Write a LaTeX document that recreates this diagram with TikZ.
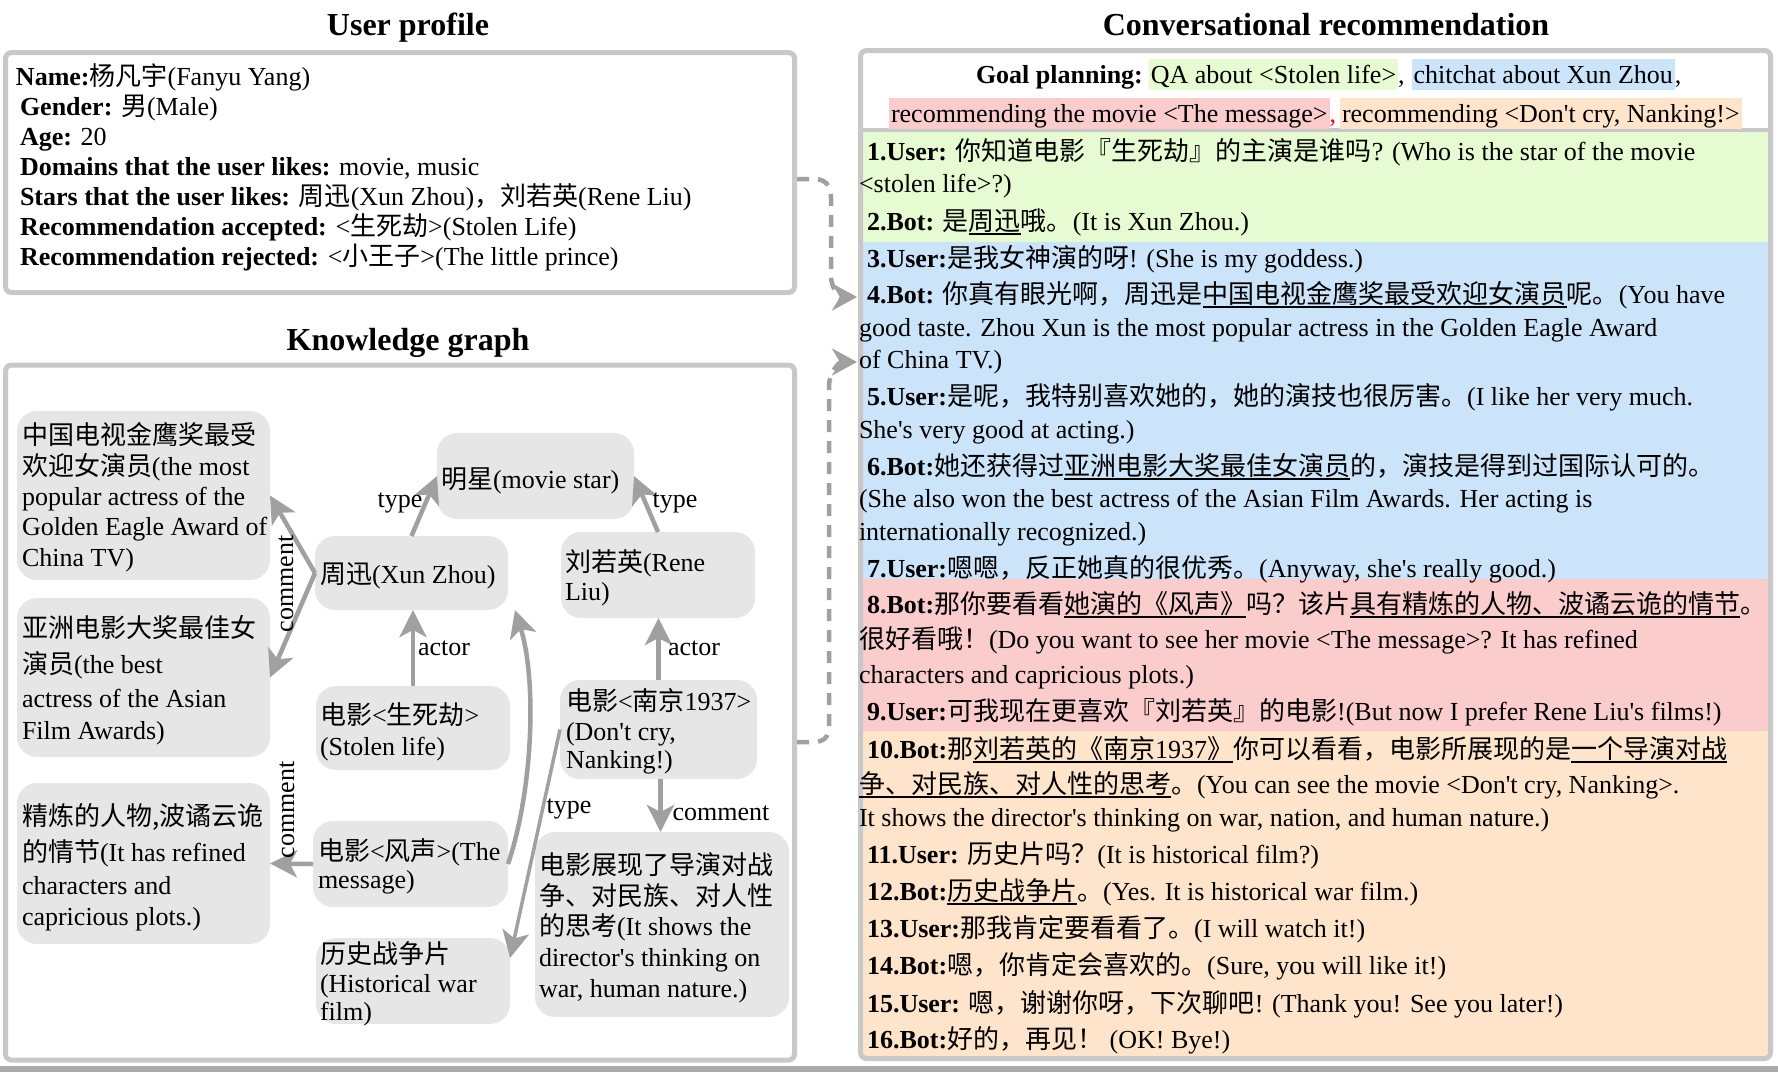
\documentclass[tikz,border=0pt]{standalone}
\usepackage{fontspec}
\setmainfont{Liberation Serif}
\newfontfamily\cjk{Noto Sans CJK SC}
\usetikzlibrary{arrows.meta}
\newcommand\zh[1]{{\cjk #1}}
\newsavebox\ulbox
\newcommand\ulx[1]{\sbox\ulbox{#1}\rlap{\rule[-5pt]{\wd\ulbox}{2.5pt}}\usebox\ulbox}
\newcommand\ap{\textquotesingle}
\definecolor{panelgray}{RGB}{200,200,200}
\definecolor{edgegray}{RGB}{160,160,160}
\definecolor{nodegray}{RGB}{230,230,230}
\definecolor{cgreen}{RGB}{230,251,210}
\definecolor{cblue}{RGB}{204,228,250}
\definecolor{cpink}{RGB}{251,204,204}
\definecolor{corange}{RGB}{255,228,204}
\begin{document}
\begin{tikzpicture}[x=1pt,y=-1pt,
  every node/.style={inner sep=0pt, outer sep=0pt, font=\fontsize{26pt}{30pt}\selectfont},
  txt/.style={anchor=base west},
  ttl/.style={anchor=base, font=\fontsize{32pt}{36pt}\selectfont\bfseries},
  panel/.style={draw=panelgray, line width=5pt, rounded corners=6pt},
  kgbox/.style={fill=nodegray, rounded corners=20pt, draw=none},
  kgarrow/.style={draw=edgegray, line width=4.5pt, -{Stealth[length=27pt,width=27pt,inset=7pt]}},
  dasharrow/.style={draw=edgegray, line width=4.5pt, dash pattern=on 12pt off 9pt, -{Stealth[length=25pt,width=27pt,inset=8pt]}},
  hl/.style={anchor=base west, inner xsep=2pt, inner ysep=3pt, text height=21pt, text depth=4pt},
  lbl/.style={anchor=base},
]
\useasboundingbox (0,0) rectangle (1778,1072);
% bottom band
\fill[panelgray!85!black] (0,1066) rectangle (1778,1072);
% titles
\node[ttl] (t1) at (408,35) {User profile};
\node[ttl] (t2) at (408,350) {Knowledge graph};
\node[ttl] (t3) at (1326,35) {Conversational recommendation};
% left panels
\node[panel, minimum width=789pt, minimum height=240pt] (up) at (400,172.5) {};
\node[panel, minimum width=789pt, minimum height=695pt] (kg) at (400,712.5) {};
% right panel bands
\fill[cgreen] (860,131) rectangle (1769,242);
\fill[cblue] (860,242) rectangle (1769,579);
\fill[cpink] (860,579) rectangle (1769,731);
\fill[corange] (860,731) rectangle (1769,1056);
\node[panel, minimum width=910pt, minimum height=1008pt] (rb) at (1315.5,554.5) {};
\draw[panelgray, line width=4pt] (860,130) -- (1770,130);

% user profile text
\node[txt] (p1) at (16,85) {\textbf{Name:}\zh{杨凡宇}(Fanyu Yang)};
\node[txt] (p2) at (20,115) {\textbf{Gender:} \zh{男}(Male)};
\node[txt] (p3) at (20,145) {\textbf{Age:} 20};
\node[txt] (p4) at (20,175) {\textbf{Domains that the user likes:} movie, music};
\node[txt] (p5) at (20,205) {\textbf{Stars that the user likes:} \zh{周迅}(Xun Zhou)\zh{，刘若英}(Rene Liu)};
\node[txt] (p6) at (20,235) {\textbf{Recommendation accepted:} <\zh{生死劫}>(Stolen Life)};
\node[txt] (p7) at (20,265) {\textbf{Recommendation rejected:} <\zh{小王子}>(The little prince)};

% goal planning
\node[txt] (gp) at (976,83) {\textbf{Goal planning:}};
\node[hl, fill=cgreen] (g1) at ([xshift=6pt]gp.base east) {QA about <Stolen life>};
\node[txt] (c1) at (g1.base east) {,};
\node[hl, fill=cblue] (g2) at ([xshift=7pt]c1.base east) {chitchat about Xun Zhou};
\node[txt] (c2) at (g2.base east) {,};
\node[hl, fill=cpink] (g3) at (889,122) {recommending the movie <The message>};
\node[txt, text=red] (c3) at (g3.base east) {,};
\node[hl, fill=corange] (g4) at ([xshift=4pt]c3.base east) {recommending <Don\ap t cry, Nanking!>};

% dialogue
\node[txt] (r1) at (867,160) {\textbf{1.User:} \zh{你知道电影『生死劫』的主演是谁吗}? (Who is the star of the movie};
\node[txt] (r2) at (859,192) {<stolen life>?)};
\node[txt] (r3) at (867,230) {\textbf{2.Bot:} \zh{是\ulx{周迅}哦。}(It is Xun Zhou.)};
\node[txt] (r4) at (867,267) {\textbf{3.User:}\zh{是我女神演的呀}! (She is my goddess.)};
\node[txt] (r5) at (867,303) {\textbf{4.Bot:} \zh{你真有眼光啊，周迅是\ulx{中国电视金鹰奖最受欢迎女演员}呢。}(You have};
\node[txt] (r6) at (859,336) {good taste. Zhou Xun is the most popular actress in the Golden Eagle Award};
\node[txt] (r7) at (859,368) {of China TV.)};
\node[txt] (r8) at (867,405) {\textbf{5.User:}\zh{是呢，我特别喜欢她的，她的演技也很厉害。}(I like her very much.};
\node[txt] (r9) at (859,438) {She\ap s very good at acting.)};
\node[txt] (r10) at (867,475) {\textbf{6.Bot:}\zh{她还获得过\ulx{亚洲电影大奖最佳女演员}的，演技是得到过国际认可的。}};
\node[txt] (r11) at (859,507) {(She also won the best actress of the Asian Film Awards. Her acting is};
\node[txt] (r12) at (859,540) {internationally recognized.)};
\node[txt] (r13) at (867,577) {\textbf{7.User:}\zh{嗯嗯，反正她真的很优秀。}(Anyway, she\ap s really good.)};
\node[txt] (r14) at (867,613) {\textbf{8.Bot:}\zh{那你要看看\ulx{她演的《风声》}吗？该片\ulx{具有精炼的人物、波谲云诡的情节}。}};
\node[txt] (r15) at (859,648) {\zh{很好看哦！}(Do you want to see her movie <The message>? It has refined};
\node[txt] (r16) at (859,683) {characters and capricious plots.)};
\node[txt] (r17) at (867,720) {\textbf{9.User:}\zh{可我现在更喜欢『刘若英』的电影}!(But now I prefer Rene Liu\ap s films!)};
\node[txt] (r18) at (867,758) {\textbf{10.Bot:}\zh{那}\ulx{\zh{刘若英的《南京}1937\zh{》}}\zh{你可以看看，电影所展现的是\ulx{一个导演对战}}};
\node[txt] (r19) at (859,793) {\zh{\ulx{争、对民族、对人性的思考}。}(You can see the movie <Don\ap t cry, Nanking>.};
\node[txt] (r20) at (859,826) {It shows the director\ap s thinking on war, nation, and human nature.)};
\node[txt] (r21) at (867,863) {\textbf{11.User:} \zh{历史片吗？}(It is historical film?)};
\node[txt] (r22) at (867,900) {\textbf{12.Bot:}\zh{\ulx{历史战争片}。}(Yes. It is historical war film.)};
\node[txt] (r23) at (867,937) {\textbf{13.User:}\zh{那我肯定要看看了。}(I will watch it!)};
\node[txt] (r24) at (867,974) {\textbf{14.Bot:}\zh{嗯，你肯定会喜欢的。}(Sure, you will like it!)};
\node[txt] (r25) at (867,1012) {\textbf{15.User:} \zh{嗯，谢谢你呀，下次聊吧}! (Thank you! See you later!)};
\node[txt] (r26) at (867,1048) {\textbf{16.Bot:}\zh{好的，再见！} (OK! Bye!)};

% knowledge graph boxes
\node[kgbox, minimum width=253pt, minimum height=169pt] (b1) at (143.5,495.5) {};
\node[kgbox, minimum width=253pt, minimum height=159pt] (b2) at (143.5,677.5) {};
\node[kgbox, minimum width=253pt, minimum height=161pt] (b3) at (143.5,863.5) {};
\node[kgbox, minimum width=197pt, minimum height=86pt] (b4) at (535.5,476) {};
\node[kgbox, minimum width=193pt, minimum height=74pt] (b5) at (411.5,573) {};
\node[kgbox, minimum width=194pt, minimum height=86pt] (b6) at (658,575) {};
\node[kgbox, minimum width=194pt, minimum height=84pt] (b7) at (413,728) {};
\node[kgbox, minimum width=197pt, minimum height=99pt] (b8) at (658.5,729.5) {};
\node[kgbox, minimum width=195pt, minimum height=86pt] (b9) at (410.5,864) {};
\node[kgbox, minimum width=194pt, minimum height=86pt] (b10) at (413,981) {};
\node[kgbox, minimum width=254pt, minimum height=185pt] (b11) at (662,924.5) {};

% box texts
\node[txt] (b1a) at (22,444) {\zh{中国电视金鹰奖最受}};
\node[txt] (b1b) at (22,475) {\zh{欢迎女演员}(the most};
\node[txt] (b1c) at (22,505) {popular actress of the};
\node[txt] (b1d) at (22,535) {Golden Eagle Award of};
\node[txt] (b1e) at (22,566) {China TV)};
\node[txt] (b2a) at (22,637) {\zh{亚洲电影大奖最佳女}};
\node[txt] (b2b) at (22,673) {\zh{演员}(the best};
\node[txt] (b2c) at (22,707) {actress of the Asian};
\node[txt] (b2d) at (22,739) {Film Awards)};
\node[txt] (b3a) at (22,825) {\zh{精炼的人物,波谲云诡}};
\node[txt] (b3b) at (22,861) {\zh{的情节}(It has refined};
\node[txt] (b3c) at (22,894) {characters and};
\node[txt] (b3d) at (22,925) {capricious plots.)};
\node[txt] (b4a) at (441,488) {\zh{明星}(movie star)};
\node[txt] (b5a) at (320,583) {\zh{周迅}(Xun Zhou)};
\node[txt] (b6a) at (565,571) {\zh{刘若英}(Rene};
\node[txt] (b6b) at (565,600) {Liu)};
\node[txt] (b7a) at (320,724) {\zh{电影}<\zh{生死劫}>};
\node[txt] (b7b) at (320,755) {(Stolen life)};
\node[txt] (b8a) at (566,710) {\zh{电影}<\zh{南京}1937>};
\node[txt] (b8b) at (566,740) {(Don\ap t cry,};
\node[txt] (b8c) at (566,768) {Nanking!)};
\node[txt] (b9a) at (318,860) {\zh{电影}<\zh{风声}>(The};
\node[txt] (b9b) at (318,888) {message)};
\node[txt] (b10a) at (320,963) {\zh{历史战争片}};
\node[txt] (b10b) at (320,992) {(Historical war};
\node[txt] (b10c) at (320,1020) {film)};
\node[txt] (b11a) at (539,874) {\zh{电影展现了导演对战}};
\node[txt] (b11b) at (539,905) {\zh{争、对民族、对人性}};
\node[txt] (b11c) at (539,935) {\zh{的思考}(It shows the};
\node[txt] (b11d) at (539,966) {director\ap s thinking on};
\node[txt] (b11e) at (539,997) {war, human nature.)};

% knowledge graph edges
\draw[kgarrow] (b5.west) -- (b1.east);
\draw[kgarrow] (b5.west) -- (b2.east);
\draw[kgarrow] (b5.north) -- (b4.west);
\draw[kgarrow] (b6.north) -- (b4.east);
\draw[kgarrow] (b7.north) -- (b7.north |- b5.south);
\draw[kgarrow] (b8.north) -- (b8.north |- b6.south);
\draw[kgarrow] (b9.east) .. controls (533,790) and (537,680) .. ([xshift=7pt]b5.south east);
\draw[kgarrow] (b9.west) -- (b3.east);
\draw[kgarrow, line width=3.5pt] (b8.west) -- ([yshift=-20pt]b10.north east);
\draw[kgarrow] ([xshift=2pt]b8.south) -- ([xshift=2pt]b8.south |- b11.north);

% edge labels
\node[lbl] (lt1) at (400,507) {type};
\node[lbl] (lt2) at (675,507) {type};
\node[lbl] (la1) at (444,655) {actor};
\node[lbl] (la2) at (694,655) {actor};
\node[lbl] (lt3) at (569,813) {type};
\node[lbl] (lc3) at (721,820) {comment};
\node[rotate=90] (lc1) at (286,584) {comment};
\node[rotate=90] (lc2) at (287,810) {comment};

% dashed links
\coordinate (d1) at (857,297);
\coordinate (d2) at (857,362);
\draw[dasharrow] ([xshift=2.5pt,yshift=-6.5pt]up.east) -- (814,179) .. controls (826,179) and (831,186) .. (831,198) -- (831,276) .. controls (831,289) and (840,297) .. (d1);
\draw[dasharrow] ([xshift=2.5pt,yshift=-29.5pt]kg.east) -- (813,742) .. controls (824,742) and (829,737) .. (829,726) -- (829,386) .. controls (829,373) and (839,362) .. (d2);
\end{tikzpicture}
\end{document}
